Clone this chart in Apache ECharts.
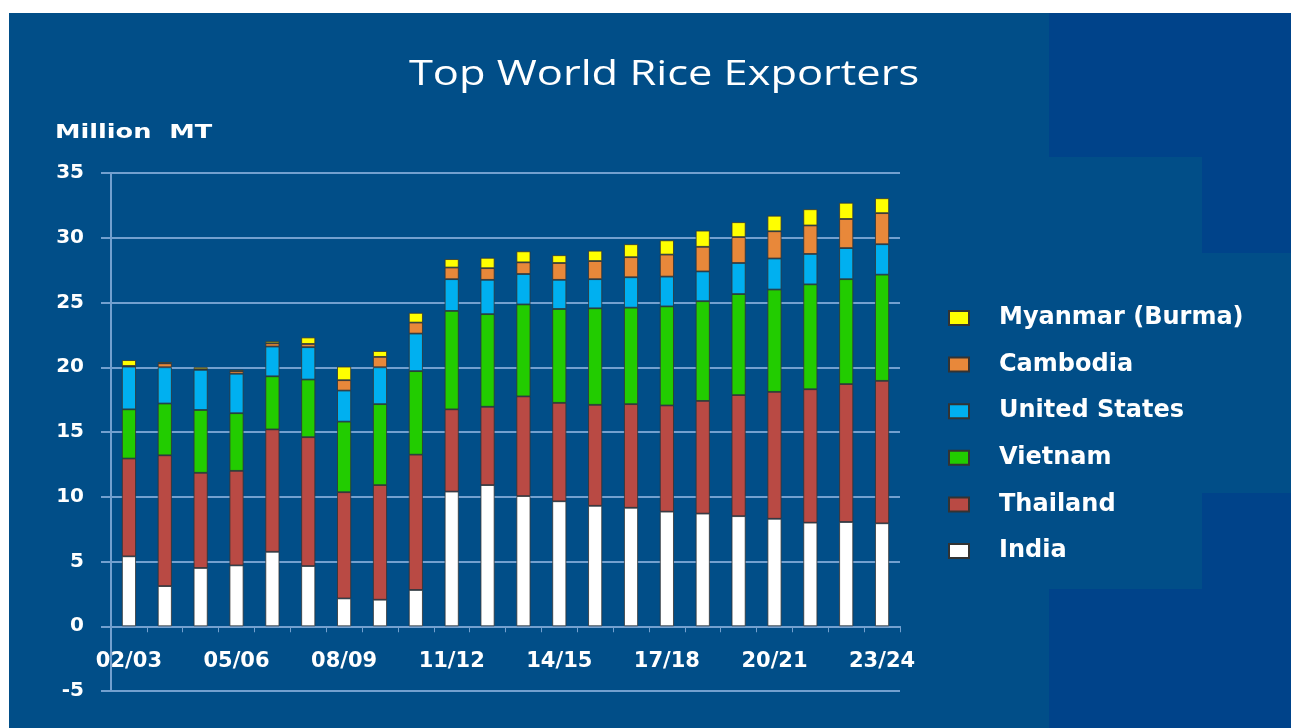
<!DOCTYPE html>
<html><head><meta charset="utf-8">
<script src="https://cdn.jsdelivr.net/npm/echarts@6/dist/echarts.min.js"></script>
<style>
html,body{margin:0;padding:0;background:#fff;}
#wrap{position:relative;width:1291px;height:728px;background:#fff;overflow:hidden;}
.bg{position:absolute;}
#chart{position:absolute;left:0;top:0;width:1291px;height:728px;}
</style></head><body>
<div id="wrap">
<div class="bg" style="left:9px;top:13px;width:1282px;height:715px;background:#014E88"></div>
<div class="bg" style="left:1049px;top:13px;width:242px;height:144px;background:#00438A"></div>
<div class="bg" style="left:1202px;top:157px;width:89px;height:96px;background:#00438A"></div>
<div class="bg" style="left:1202px;top:493px;width:89px;height:96px;background:#00438A"></div>
<div class="bg" style="left:1049px;top:589px;width:242px;height:139px;background:#00438A"></div>
<div id="chart"></div>
</div>
<script>
var categories = ['02/03','03/04','04/05','05/06','06/07','07/08','08/09','09/10','10/11','11/12','12/13',
  '13/14','14/15','15/16','16/17','17/18','18/19','19/20','20/21','21/22','22/23','23/24'];
var india    = [5.4, 3.1, 4.5, 4.7, 5.75, 4.65, 2.15, 2.05, 2.8, 10.4, 10.9, 10.05, 9.65, 9.3, 9.15, 8.85, 8.7, 8.5, 8.3, 8.0, 8.05, 7.95];
var thailand = [7.55, 10.1, 7.35, 7.3, 9.45, 9.95, 8.2, 8.85, 10.45, 6.35, 6.05, 7.7, 7.6, 7.8, 8.0, 8.2, 8.7, 9.35, 9.8, 10.3, 10.65, 11.0];
var vietnam  = [3.8, 4.0, 4.85, 4.45, 4.1, 4.45, 5.45, 6.25, 6.45, 7.6, 7.15, 7.1, 7.25, 7.45, 7.45, 7.65, 7.7, 7.8, 7.9, 8.1, 8.1, 8.2];
var usa      = [3.3, 2.8, 3.1, 3.05, 2.3, 2.5, 2.4, 2.85, 2.9, 2.45, 2.65, 2.35, 2.25, 2.25, 2.35, 2.3, 2.3, 2.4, 2.4, 2.35, 2.4, 2.35];
var cambodia = [0.05, 0.3, 0.05, 0.2, 0.25, 0.25, 0.8, 0.8, 0.85, 0.9, 0.9, 0.9, 1.3, 1.4, 1.55, 1.7, 1.9, 2.0, 2.1, 2.2, 2.25, 2.4];
var myanmar  = [0.45, 0.1, 0.15, 0.1, 0.15, 0.5, 1.05, 0.45, 0.75, 0.65, 0.8, 0.85, 0.6, 0.8, 1.0, 1.1, 1.25, 1.15, 1.2, 1.25, 1.25, 1.15];
var legendOrder = ['Myanmar (Burma)','Cambodia','United States','Vietnam','Thailand','India'];

var gridColor = '#73A0CF';
var font = 'DejaVu Sans';
function mk(name, data, color) {
  return { name: name, type: 'bar', stack: 'total', data: data, barWidth: 14,
    itemStyle: { color: color, borderColor: '#333333', borderWidth: 0.8 } };
}
var chart = echarts.init(document.getElementById('chart'), null, {renderer: 'canvas'});
chart.setOption({
  backgroundColor: 'transparent',
  animation: false,
  grid: { left: 111, right: 391, top: 173, bottom: 37, containLabel: false, outerBoundsMode: 'none' },
  legend: {
    data: legendOrder, orient: 'vertical', left: 948, top: 306, padding: 0,
    itemWidth: 20, itemHeight: 14, itemGap: 22.6, icon: 'rect',
    textStyle: { color: '#fff', fontFamily: font, fontWeight: 'bold', fontSize: 24, lineHeight: 24, padding: [0,0,0,25] }
  },
  xAxis: {
    type: 'category', data: categories, offset: -64.75,
    axisLine: { onZero: false, lineStyle: { color: gridColor, width: 2 } },
    axisTick: { show: true, interval: 0, length: 6, lineStyle: { color: gridColor, width: 1 } },
    axisLabel: { interval: 2, margin: 25, color: '#fff', fontFamily: font, fontWeight: 'bold', fontSize: 21 },
    splitLine: { show: false }
  },
  yAxis: {
    type: 'value', min: -5, max: 35, interval: 5,
    axisLine: { show: true, lineStyle: { color: gridColor, width: 2 } },
    axisTick: { show: true, length: 10, lineStyle: { color: gridColor, width: 2 } },
    axisLabel: { margin: 27, color: '#fff', fontFamily: font, fontWeight: 'bold', fontSize: 20 },
    splitLine: { show: true, lineStyle: { color: gridColor, width: 2 } }
  },
  graphic: [
    { type: 'text', x: 664, y: 75, scaleX: 1.24, scaleY: 1,
      style: { text: 'Top World Rice Exporters', font: '35px "Open Sans"', fill: '#fff', textAlign: 'center', textVerticalAlign: 'middle' } },
    { type: 'text', x: 55, y: 133, scaleX: 1.28, scaleY: 1,
      style: { text: 'Million  MT', font: 'bold 20px "DejaVu Sans"', fill: '#fff', textAlign: 'left', textVerticalAlign: 'middle' } }
  ],
  series: [
    mk('India', india, '#FFFFFF'),
    mk('Thailand', thailand, '#B94A44'),
    mk('Vietnam', vietnam, '#22CC00'),
    mk('United States', usa, '#00B0F0'),
    mk('Cambodia', cambodia, '#E8883A'),
    mk('Myanmar (Burma)', myanmar, '#FFFF00')
  ]
});
</script>
</body></html>
